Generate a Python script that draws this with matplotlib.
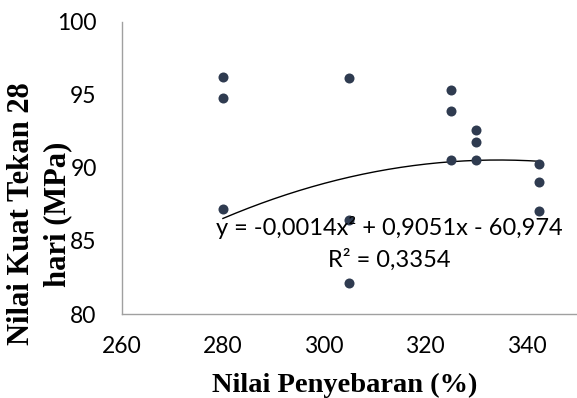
import matplotlib
matplotlib.use('Agg')
import matplotlib.pyplot as plt
import numpy as np

# data
penyebaran = [280, 280, 280, 305, 305, 305, 325, 325, 325, 330, 330, 330, 342.5, 342.5, 342.5]
kuat_tekan = [96.2, 94.75, 87.2, 96.15, 86.4, 82.1, 95.3, 93.9, 90.55, 92.6, 91.8, 90.55, 90.25, 89.05, 87.05]

# points on the drawn trendline
trend_x = [280, 302, 325, 342.5]
trend_y = [86.56, 89.05, 90.49, 90.42]

eq_text = 'y = -0,0014x² + 0,9051x - 60,974'
r2_text = 'R² = 0,3354'

fig = plt.figure(figsize=(5.77, 3.98), dpi=100)
ax = fig.add_axes([0.211, 0.211, 0.789, 0.7345])

ax.scatter(penyebaran, kuat_tekan, s=52, color='#2f3b50', zorder=3, linewidths=0)

# polynomial trendline (order 2)
coef = np.polyfit(trend_x, trend_y, 2)
xs = np.linspace(min(penyebaran), max(penyebaran), 200)
ax.plot(xs, np.polyval(coef, xs), color='black', linewidth=1.0, zorder=2)

eq_font = {'family': 'Lato', 'size': 17}
ax.text(312.8, 85.95, eq_text, ha='center', va='center', fontdict=eq_font)
ax.text(312.8, 83.7, r2_text, ha='center', va='center', fontdict=eq_font)

ax.set_xlim(260, 350)
ax.set_ylim(80, 100)
ax.set_xticks([260, 280, 300, 320, 340])
ax.set_yticks([80, 85, 90, 95, 100])
ax.tick_params(length=0, labelsize=16.5)
ax.tick_params(axis='x', pad=16)
ax.tick_params(axis='y', pad=18)
for lab in ax.get_xticklabels() + ax.get_yticklabels():
    lab.set_family('Lato')

for s in ['top', 'right']:
    ax.spines[s].set_visible(False)
for s in ['left', 'bottom']:
    ax.spines[s].set_color('#a0a0a0')
    ax.spines[s].set_linewidth(1.0)

fig.text(0.598, 0.0151, 'Nilai Penyebaran (%)', ha='center', va='baseline',
         family='Liberation Serif', weight='bold', size=20.5)
fig.text(0.0685, 0.462, 'Nilai Kuat Tekan 28\nhari (MPa)', ha='center', va='center',
         rotation=90, family='Liberation Serif', weight='bold', size=22, linespacing=1.3)

plt.savefig('out.png', dpi=100)
